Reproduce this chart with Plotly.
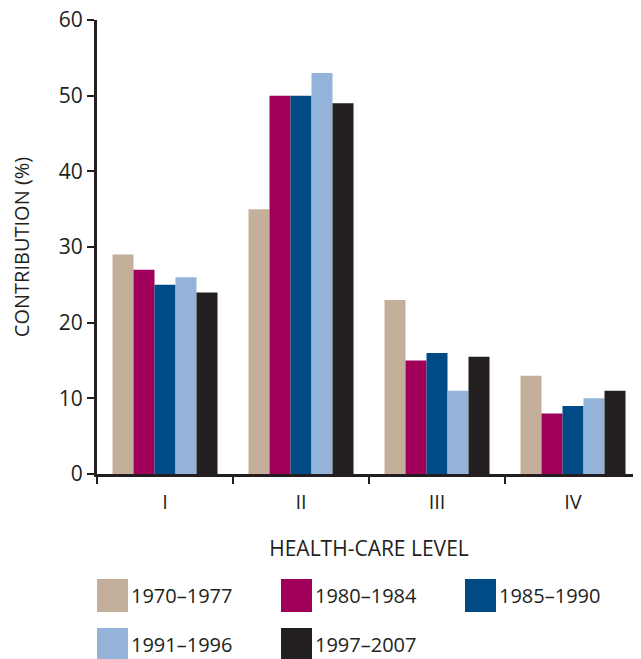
import plotly.graph_objects as go

levels = ["I", "II", "III", "IV"]
periods = ["1970–1977", "1980–1984", "1985–1990", "1991–1996", "1997–2007"]
v_1970_1977 = [29, 35, 23, 13]
v_1980_1984 = [27, 50, 15, 8]
v_1985_1990 = [25, 50, 16, 9]
v_1991_1996 = [26, 53, 11, 10]
v_1997_2007 = [24, 49, 15.5, 11]
series = [v_1970_1977, v_1980_1984, v_1985_1990, v_1991_1996, v_1997_2007]
colors = ["#C4B09A", "#A0005A", "#004B85", "#93B4D8", "#231F20"]
y_ticks = [0, 10, 20, 30, 40, 50, 60]

FONT = "Open Sans"
TXT = "#231F20"
OFF = 8  # page body margin
W, H = 641 - OFF, 659 - OFF
L, R, T, B = 97 - OFF, 0, 20 - OFF, 185

fig = go.Figure()
for name, vals, col in zip(periods, series, colors):
    fig.add_trace(go.Bar(x=levels, y=vals, name=name, marker=dict(color=col, line=dict(width=0)),
                         showlegend=False))

pw = W - L - R
ph = H - T - B

def px2paper(x, y):
    # x, y in page pixels
    x -= OFF
    y -= OFF
    return (x - L) / pw, (H - B - y) / ph

shapes = []
annotations = []
sw, sh = 31, 33
cols_x = [97, 281, 465]
rows_y = [579, 628]
for i, (name, col) in enumerate(zip(periods, colors)):
    cx = cols_x[i % 3]
    ry = rows_y[i // 3]
    x0, y0 = px2paper(cx, ry)
    x1, y1 = px2paper(cx + sw, ry + sh)
    shapes.append(dict(type="rect", xref="paper", yref="paper", x0=x0, x1=x1, y0=y1, y1=y0,
                       fillcolor=col, line=dict(width=0)))
    tx, ty = px2paper(cx + sw + 1, ry + sh / 2)
    annotations.append(dict(xref="paper", yref="paper", x=tx, y=ty, text=name, showarrow=False,
                            xanchor="left", yanchor="middle", font=dict(family=FONT, size=20, color=TXT)))

fig.update_layout(
    width=W, height=H,
    margin=dict(l=L, r=R, t=T, b=B, pad=0),
    paper_bgcolor="white", plot_bgcolor="white",
    barmode="group", bargap=0.228, bargroupgap=0,
    font=dict(family=FONT, color=TXT),
    shapes=shapes, annotations=annotations,
    showlegend=False,
)
fig.update_xaxes(
    range=[-0.5, 3.5], tickson="boundaries", ticks="outside", ticklen=7, tickwidth=2, tickcolor=TXT,
    showline=True, linecolor=TXT, linewidth=3, showgrid=False, zeroline=False,
    tickfont=dict(family=FONT, size=20, color=TXT), ticklabelstandoff=8,
    title=dict(text="HEALTH-CARE LEVEL", font=dict(family=FONT, size=21, color=TXT), standoff=28),
    automargin=False,
)
fig.update_yaxes(
    range=[0, 60], tickvals=y_ticks, ticks="outside", ticklen=7, tickwidth=2, tickcolor=TXT,
    showline=True, linecolor=TXT, linewidth=3, showgrid=False, zeroline=False,
    tickfont=dict(family=FONT, size=21, color=TXT), ticklabeloverflow="allow",
    title=dict(text="CONTRIBUTION (%)", font=dict(family=FONT, size=20, color=TXT), standoff=27),
    automargin=False,
)
fig.write_html("out.html")
